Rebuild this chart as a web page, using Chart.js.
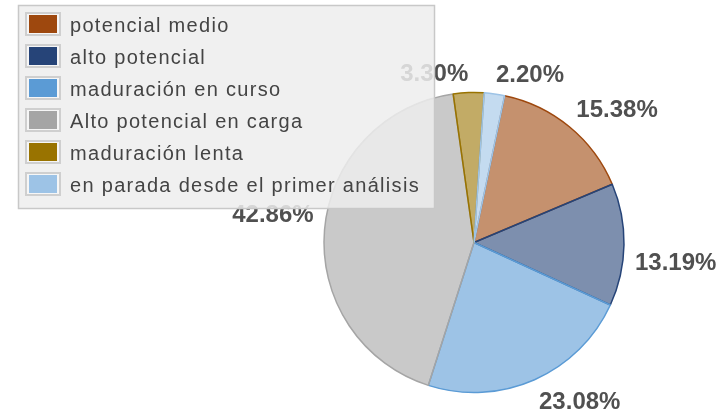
<!DOCTYPE html>
<html>
<head>
<meta charset="utf-8">
<script src="https://cdn.jsdelivr.net/npm/chart.js@4/dist/chart.umd.min.js"></script>
<style>
  html, body { margin: 0; padding: 0; background: #ffffff; }
  #wrap { width: 723px; height: 416px; position: relative; }
</style>
</head>
<body>
<div id="wrap"><canvas id="c" width="723" height="416"></canvas></div>
<script>
// ---- data ----
const categories = [
  "potencial medio",
  "alto potencial",
  "maduración en curso",
  "Alto potencial en carga",
  "maduración lenta",
  "en parada desde el primer análisis"
];
const shares = [15.38, 13.19, 23.08, 42.86, 3.30, 2.20];
const percentLabels = ["15.38%", "13.19%", "23.08%", "42.86%", "3.30%", "2.20%"];
const seriesColors = ["#9E480E", "#264478", "#5B9BD5", "#A5A5A5", "#997300", "#9DC3E6"];

function withAlpha(hex, a) {
  const r = parseInt(hex.slice(1, 3), 16), g = parseInt(hex.slice(3, 5), 16), b = parseInt(hex.slice(5, 7), 16);
  return `rgba(${r},${g},${b},${a})`;
}

const labelPlugin = {
  id: 'outerLabels',
  afterDatasetsDraw(chart) {
    const ctx = chart.ctx;
    const meta = chart.getDatasetMeta(0);
    ctx.save();
    ctx.font = 'bold 24px "Liberation Sans", Arial, sans-serif';
    ctx.fillStyle = '#505050';
    meta.data.forEach((arc, i) => {
      const p = arc.getProps(['x', 'y', 'startAngle', 'endAngle', 'outerRadius'], true);
      const mid = (p.startAngle + p.endAngle) / 2;
      const d = p.outerRadius + 11;
      const c = Math.cos(mid), s = Math.sin(mid);
      const px = p.x + c * d;
      const py = p.y + s * d;
      ctx.textAlign = c >= 0 ? 'left' : 'right';
      ctx.textBaseline = 'alphabetic';
      const capH = 17;
      const push = 6 * Math.max(0, (Math.abs(c) - 0.8) / 0.2);
      const by = s < 0 ? py - 1 - push : py + capH + 2 + push;
      ctx.fillText(percentLabels[i], px, by);
    });
    ctx.restore();
  }
};

const legendPlugin = {
  id: 'overlayLegend',
  afterDraw(chart) {
    const ctx = chart.ctx;
    ctx.save();
    ctx.fillStyle = 'rgba(237,237,237,0.85)';
    ctx.fillRect(18, 5, 417, 204);
    ctx.strokeStyle = '#c8c8c8';
    ctx.lineWidth = 1.5;
    ctx.strokeRect(18.5, 5.5, 416, 203);
    ctx.font = '20px "Liberation Sans", Arial, sans-serif';
    if ('letterSpacing' in ctx) ctx.letterSpacing = '1.3px';
    ctx.textAlign = 'left';
    ctx.textBaseline = 'alphabetic';
    chart.data.labels.forEach((lab, i) => {
      const y0 = 12 + 32 * i;
      ctx.fillStyle = '#cfcfcf';
      ctx.fillRect(25, y0, 36, 24);
      ctx.fillStyle = '#f6f6f6';
      ctx.fillRect(27, y0 + 2, 32, 20);
      ctx.fillStyle = chart.data.datasets[0].borderColor[i];
      ctx.fillRect(29, y0 + 3, 28, 18);
      ctx.fillStyle = '#444444';
      ctx.fillText(lab, 70, y0 + 20);
    });
    ctx.restore();
  }
};

new Chart(document.getElementById('c'), {
  type: 'pie',
  data: {
    labels: categories,
    datasets: [{
      data: shares,
      backgroundColor: seriesColors.map(c => withAlpha(c, 0.6)),
      borderColor: seriesColors,
      borderWidth: 1.5,
      radius: 150
    }]
  },
  options: {
    responsive: false,
    animation: false,
    devicePixelRatio: 1,
    rotation: 11.8,
    layout: { padding: { left: 225, right: 0, top: 69, bottom: 0 } },
    plugins: {
      legend: { display: false },
      tooltip: { enabled: false }
    }
  },
  plugins: [labelPlugin, legendPlugin]
});
</script>
</body>
</html>
